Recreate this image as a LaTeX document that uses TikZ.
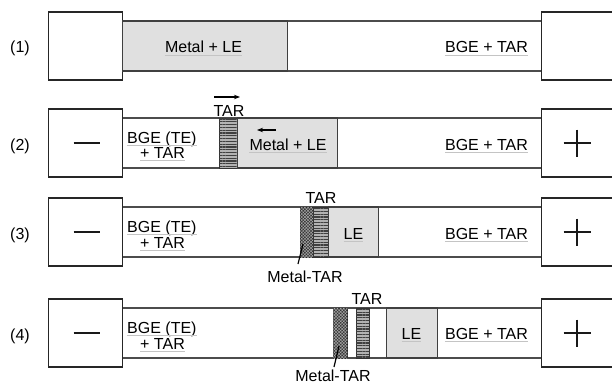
\documentclass[tikz,border=0pt]{standalone}
\usepackage{fontspec}
\setmainfont{Liberation Sans}
\usetikzlibrary{arrows.meta,patterns.meta}

\definecolor{zonegray}{HTML}{E0E0E0}
\definecolor{ulgray}{HTML}{C4C4C4}

\begin{document}
\begin{tikzpicture}[x=1pt,y=-1pt,
  every node/.style={font=\fontsize{16}{18}\selectfont, inner sep=0pt},
  endbox/.style={draw=black!85, line width=1.2pt, minimum width=74pt,
    minimum height=68pt, anchor=west},
  tube/.style={draw=black!70, line width=1.2pt},
  zone/.style={draw=black!75, line width=1.1pt, fill=zonegray,
    minimum height=50pt, anchor=west},
  tarband/.style={draw=black!80, line width=0.9pt, fill=black!30,
    postaction={pattern={Lines[angle=0,distance=2.8pt,line width=1.3pt]},
      pattern color=black!75},
    minimum height=50pt, anchor=west},
  metalband/.style={draw=black!85, line width=0.9pt, fill=black!80,
    postaction={pattern={Hatch[angle=45,distance=2.2pt,line width=0.5pt]},
      pattern color=black!35},
    minimum height=50pt, anchor=west},
  sign/.style={draw=black!90, line width=2.2pt},
  uline/.style={draw=ulgray, line width=1pt},
  migrate/.style={draw=black, line width=1.1pt, -{Stealth[length=6pt,width=4.5pt]}},
  leader/.style={draw=black, line width=1.2pt},
]
\useasboundingbox (0,0) rectangle (612,385);

% ---------- end reservoirs and tubes ----------
\foreach \r/\c in {1/46,2/143,3/232,4/333}{
  \node[endbox] (L\r) at (48,\c) {};
  \node[endbox] (R\r) at (541,\c) {};
  \draw[tube] ([yshift=25pt]L\r.east) -- ([yshift=25pt]R\r.west);
  \draw[tube] ([yshift=-25pt]L\r.east) -- ([yshift=-25pt]R\r.west);
}

% electrode signs
\foreach \r in {2,3,4}{
  \draw[sign, line width=2.6pt] ([xshift=-12pt]L\r.center) -- ([xshift=14pt]L\r.center);
  \draw[sign] ([xshift=22.5pt]R\r.west) -- ([xshift=49.5pt]R\r.west);
  \draw[sign] ([xshift=36pt,yshift=13.5pt]R\r.west) -- ([xshift=36pt,yshift=-13.5pt]R\r.west);
}

% ---------- zones ----------
% (1)
\node[zone, minimum width=165pt] (Z1) at (122,46) {};
% (2)
\node[tarband, minimum width=18pt] (T2) at (219,143) {};
\node[zone, minimum width=100pt] (Z2) at (237,143) {};
% (3)
\node[metalband, minimum width=13pt] (M3) at (300,232) {};
\node[tarband, minimum width=15pt] (T3) at (313,232) {};
\node[zone, minimum width=50pt] (Z3) at (328,232) {};
% (4)
\node[metalband, minimum width=14pt] (M4) at (333,333) {};
\node[tarband, minimum width=13pt] (T4) at (356,333) {};
\node[zone, minimum width=51pt] (Z4) at (386,333) {};

% ---------- labels ----------
\node[anchor=base] (n1) at (20,53) {(1)};
\node[anchor=base] (n2) at (20,150) {(2)};
\node[anchor=base] (n3) at (20,239) {(3)};
\node[anchor=base] (n4) at (20,340) {(4)};

% row (1)
\node[anchor=base] (ml1) at (203.5,53) {Metal + LE};
\node[anchor=base] (bt1) at (486.5,53) {BGE + TAR};

% row (2)
\node[anchor=base west] (te2) at (127,143) {BGE (TE)};
\node[anchor=base west] (pt2) at (140,158) {+ TAR};
\node[anchor=base] (tar2) at (229,117) {TAR};
\node[anchor=base] (ml2) at (288,150) {Metal + LE};
\node[anchor=base] (bt2) at (486.5,150) {BGE + TAR};
\coordinate (a2s) at (214,97);
\coordinate (a2e) at (240,97);
\coordinate (b2s) at (276,130);
\coordinate (b2e) at (257,130);
\draw[migrate] (a2s) -- (a2e);
\draw[migrate] (b2s) -- (b2e);

% row (3)
\node[anchor=base west] (te3) at (127,232) {BGE (TE)};
\node[anchor=base west] (pt3) at (140,248) {+ TAR};
\node[anchor=base] (tar3) at (321,203) {TAR};
\node[anchor=base] (le3) at (353.5,239) {LE};
\node[anchor=base] (bt3) at (486.5,239) {BGE + TAR};
\node[anchor=base] (mt3) at (305,282) {Metal-TAR};
\coordinate (p3a) at (303,244);
\coordinate (p3b) at (298,264);
\draw[leader] (p3a) -- (p3b);

% row (4)
\node[anchor=base west] (te4) at (127,333) {BGE (TE)};
\node[anchor=base west] (pt4) at (140,349) {+ TAR};
\node[anchor=base] (tar4) at (367,304) {TAR};
\node[anchor=base] (le4) at (411.5,339) {LE};
\node[anchor=base] (bt4) at (486.5,339) {BGE + TAR};
\node[anchor=base] (mt4) at (333,381.5) {Metal-TAR};
\coordinate (p4a) at (339,346);
\coordinate (p4b) at (334,367);
\draw[leader] (p4a) -- (p4b);

% faint underlines beneath the zone captions
\foreach \n in {ml1,bt1,te2,pt2,ml2,bt2,te3,pt3,le3,bt3,te4,pt4,le4,bt4}{
  \draw[uline] ([yshift=-2.2pt]\n.base west) -- ([yshift=-2.2pt]\n.base east);
}
\end{tikzpicture}
\end{document}
